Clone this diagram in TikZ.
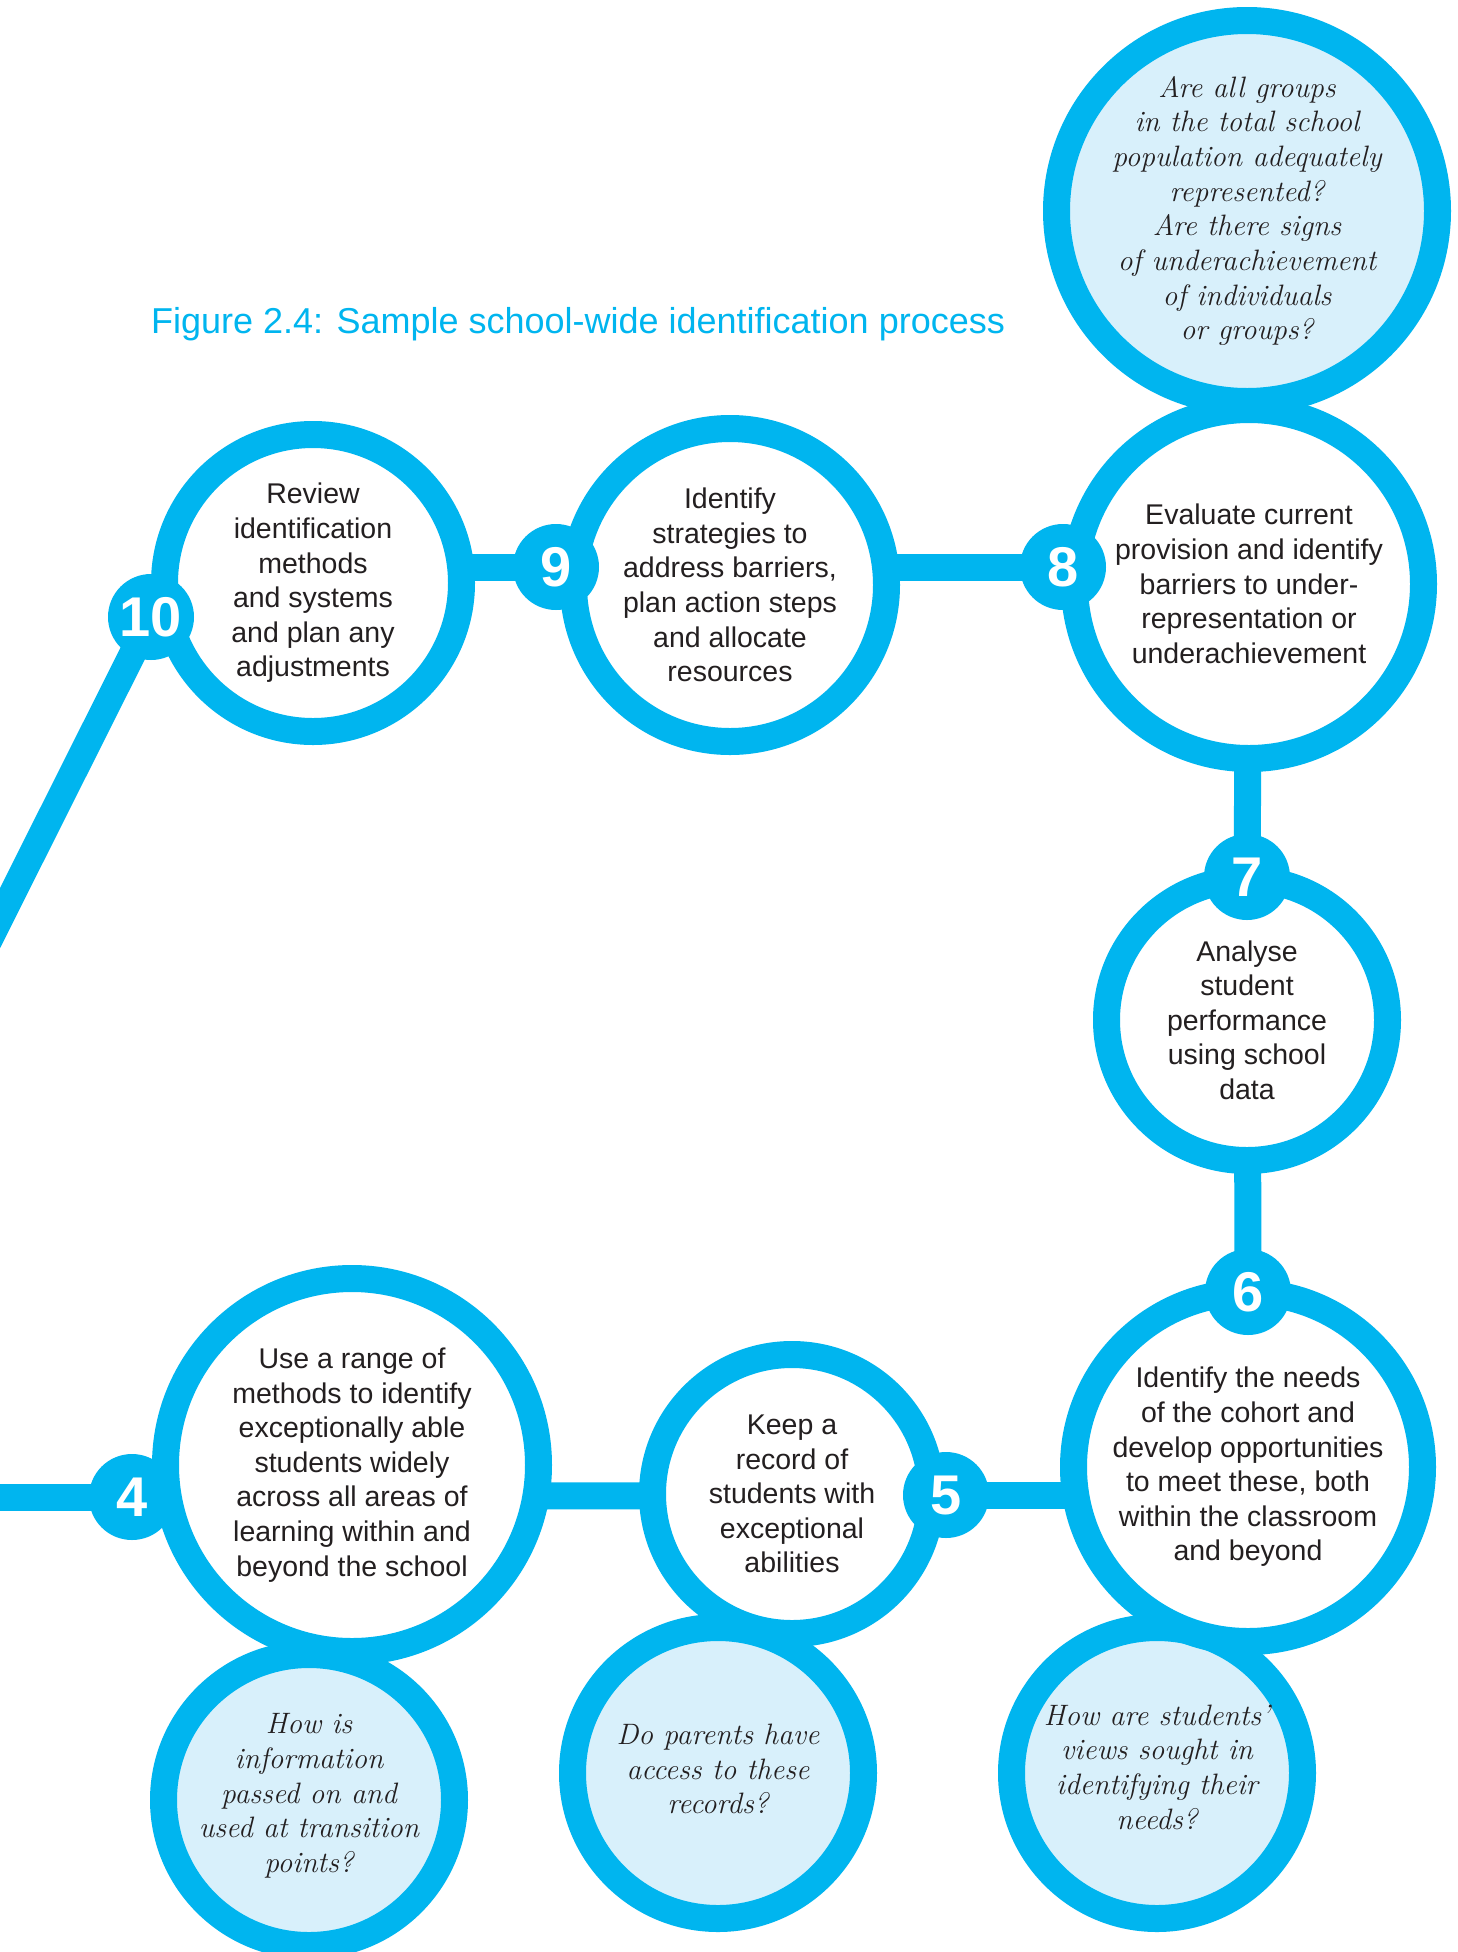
\documentclass[tikz,border=0pt]{standalone}
\usepackage{fontspec}
\newfontfamily\bodyfont{Liberation Sans}
\definecolor{ring}{RGB}{0,181,239}
\definecolor{qfill}{RGB}{216,240,251}
\definecolor{txt}{RGB}{35,31,32}
\newcommand\bodytext{\bodyfont\fontsize{28.5}{34.6}\selectfont}
\newcommand\qtext{\rmfamily\itshape\fontsize{29.5}{34.7}\selectfont}
\newcommand\badgetext{\bodyfont\bfseries\fontsize{56}{60}\selectfont}
\newcommand\titletext{\bodyfont\fontsize{36}{40}\selectfont}
\pgfdeclarelayer{paper}
\pgfdeclarelayer{bg}
\pgfsetlayers{paper,bg,main}
\tikzset{
  stepring/.style={circle, draw=ring, line width=27pt, fill=white, inner sep=0pt},
  qring/.style={stepring, fill=qfill},
  steptext/.style={align=center, inner sep=0pt, text=txt, font=\bodytext},
  qlabel/.style={align=center, inner sep=0pt, text=txt, font=\qtext},
  badge/.style={circle, fill=ring, inner sep=0pt, minimum size=86pt, text=white, font=\badgetext},
  bar/.style={draw=ring, line width=27pt},
}
\begin{document}
\begin{tikzpicture}[x=1pt, y=-1pt]
\begin{pgfonlayer}{paper}
\fill[white] (0,0) rectangle (1458,1952);
\end{pgfonlayer}
\useasboundingbox (0,0) rectangle (1458,1952);

% title
\node[anchor=base west, inner sep=0pt, text=ring, font=\titletext] (title) at (151,333)
  {Figure 2.4: Sample school-wide identification process};

% question circles
\node[qring, minimum size=381pt] (q8) at (1247,211) {};
\node[qring, minimum size=291pt] (q4) at (309,1800) {};
\node[qring, minimum size=291pt] (q5) at (718,1773) {};
\node[qring, minimum size=291pt] (q6) at (1157,1773) {};

% step circles
\node[stepring, minimum size=297pt] (c10) at (313,583) {};
\node[stepring, minimum size=313pt] (c9) at (730,585) {};
\node[stepring, minimum size=349pt] (c8) at (1249,584) {};
\node[stepring, minimum size=281pt] (c7) at (1247,1020) {};
\node[stepring, minimum size=349pt] (c6) at (1248,1467) {};
\node[stepring, minimum size=279pt] (c5) at (792,1494) {};
\node[stepring, minimum size=373pt] (c4) at (352,1465) {};

% texts
\node[steptext] (t10) at (c10) {Review\\identification\\methods\\and systems\\and plan any\\adjustments};
\node[steptext] (t9) at (c9) {Identify\\strategies to\\address barriers,\\plan action steps\\and allocate\\resources};
\node[steptext] (t8) at (c8) {Evaluate current\\provision and identify\\barriers to under-\\representation or\\underachievement};
\node[steptext] (t7) at (c7) {Analyse\\student\\performance\\using school\\data};
\node[steptext] (t6) at (c6) {Identify the needs\\of the cohort and\\develop opportunities\\to meet these, both\\within the classroom\\and beyond};
\node[steptext] (t5) at (c5) {Keep a\\record of\\students with\\exceptional\\abilities};
\node[steptext] (t4) at (c4) {Use a range of\\methods to identify\\exceptionally able\\students widely\\across all areas of\\learning within and\\beyond the school};

\node[qlabel] (tq8) at (q8) {Are all groups\\in the total school\\population adequately\\represented?\\Are there signs\\of underachievement\\of individuals\\or groups?};
\node[qlabel] (tq4) at ([yshift=4pt]q4.center) {How is\\information\\passed on and\\used at transition\\points?};
\node[qlabel] (tq5) at ([yshift=4pt]q5.center) {Do parents have\\access to these\\records?};
\node[qlabel] (tq6) at ([yshift=6pt]q6.center) {How are students'\\views sought in\\identifying their\\needs?};

% badges
\node[badge] (b10) at (151,617) {10};
\node[badge] (b9) at (556,567) {9};
\node[badge] (b8) at (1063,567) {8};
\node[badge] (b7) at (1247,877) {7};
\node[badge] (b6) at (1248,1292) {6};
\node[badge] (b5) at (946,1495) {5};
\node[badge] (b4) at (132,1497) {4};

\coordinate (left4) at (-20,1497);
\coordinate (left10) at (-20,958);

% connectors
\begin{pgfonlayer}{bg}
\draw[bar] (left4) -- (b4.center);
\draw[bar] (b4.center) -- (b5.center);
\draw[bar] (b5.center) -- (b5 -| c6);
\draw[bar] (b6.center) -- (b7.center);
\draw[bar] (b7.center) -- (c8.center);
\draw[bar] (b8.center) -- (b9.center);
\draw[bar] (b9.center) -- (b9 -| c10);
\draw[bar] (b10.center) -- (left10);
\end{pgfonlayer}
\end{tikzpicture}
\end{document}
